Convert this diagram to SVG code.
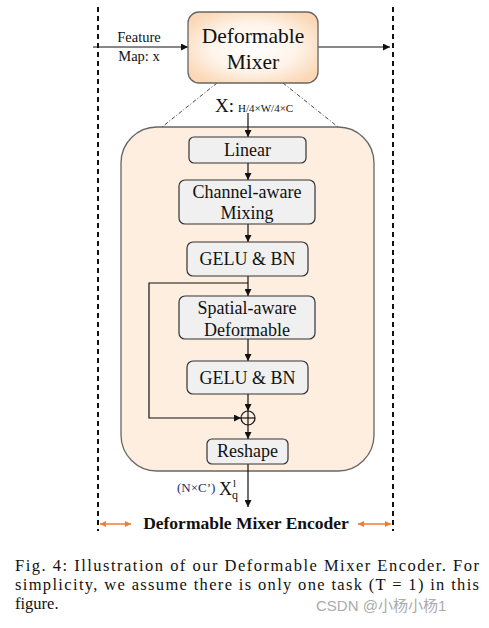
<svg xmlns="http://www.w3.org/2000/svg" width="489" height="628" viewBox="0 0 489 628" font-family="'Liberation Serif', 'Times New Roman', serif">
<defs>
<radialGradient id="mixg" cx="50%" cy="50%" r="60%">
<stop offset="0" stop-color="#ffffff"/>
<stop offset="0.55" stop-color="#fef4ea"/>
<stop offset="1" stop-color="#fbd7b5"/>
</radialGradient>
<marker id="ah" viewBox="0 0 10 10" refX="10" refY="5" markerWidth="7" markerHeight="7" markerUnits="userSpaceOnUse" orient="auto">
<path d="M0,0 L10,5 L0,10 z" fill="#111"/>
</marker>
<marker id="ao" viewBox="0 0 10 10" refX="10" refY="5" markerWidth="8" markerHeight="6" markerUnits="userSpaceOnUse" orient="auto-start-reverse">
<path d="M0,0 L10,5 L0,10 z" fill="#ed7d31"/>
</marker>
<style>
.box{fill:#f0f0f0;stroke:#333;stroke-width:1.2}
.t{font-family:'Liberation Serif','Times New Roman',serif;fill:#111;text-anchor:middle}
.b{font-size:18px}
.ln{stroke:#111;stroke-width:1.2;fill:none}
.dash{stroke:#111;stroke-width:2;stroke-dasharray:5,4;fill:none}
.cap{font-family:'Liberation Serif','Times New Roman',serif;font-size:16.5px;fill:#111}
</style>
</defs>
<rect width="489" height="628" fill="#fff"/>
<g id="frame">
<line class="dash" x1="98" y1="7" x2="98" y2="531"/>
<line class="dash" x1="393" y1="7" x2="393" y2="531"/>
</g>
<g id="container">
<rect x="121" y="127" width="253" height="344" rx="36" fill="#fdeee0" stroke="#666" stroke-width="1.3"/>
</g>
<g id="connectors">
<line class="ln" x1="93" y1="47" x2="188" y2="47" marker-end="url(#ah)"/>
<line class="ln" x1="318" y1="47" x2="390" y2="47" marker-end="url(#ah)"/>
<line x1="217" y1="83" x2="162" y2="127" stroke="#333" stroke-width="0.9" stroke-dasharray="4,2,1,2"/>
<line x1="283" y1="83" x2="338" y2="127" stroke="#333" stroke-width="0.9" stroke-dasharray="4,2,1,2"/>
<line class="ln" x1="248" y1="113" x2="248" y2="137" marker-end="url(#ah)"/>
<line class="ln" x1="248" y1="163" x2="248" y2="180" marker-end="url(#ah)"/>
<line class="ln" x1="248" y1="224" x2="248" y2="242" marker-end="url(#ah)"/>
<line class="ln" x1="248" y1="276" x2="248" y2="296" marker-end="url(#ah)"/>
<line class="ln" x1="248" y1="339" x2="248" y2="361" marker-end="url(#ah)"/>
<line class="ln" x1="248" y1="394" x2="248" y2="411" marker-end="url(#ah)"/>
<polyline class="ln" points="248,283 149,283 149,418 241,418" marker-end="url(#ah)"/>
<line class="ln" x1="248" y1="425" x2="248" y2="439" marker-end="url(#ah)"/>
<line class="ln" x1="248" y1="464" x2="248" y2="507" marker-end="url(#ah)"/>
<line x1="100" y1="524" x2="131" y2="524" stroke="#ed7d31" stroke-width="1.5" marker-start="url(#ao)" marker-end="url(#ao)"/>
<line x1="358" y1="524" x2="391" y2="524" stroke="#ed7d31" stroke-width="1.5" marker-start="url(#ao)" marker-end="url(#ao)"/>
</g>
<g id="input-label">
<text class="t" x="139" y="42" font-size="14.5">Feature</text>
<text class="t" x="139" y="61" font-size="14.5">Map: x</text>
</g>
<g id="mixer">
<rect x="188" y="12" width="130" height="71" rx="11" fill="url(#mixg)" stroke="#666" stroke-width="1.3"/>
<text class="t" x="253" y="43" font-size="21.5">Deformable</text>
<text class="t" x="253" y="69" font-size="21.5">Mixer</text>
</g>
<g id="x-label">
<text x="215" y="112" fill="#111"><tspan font-size="19">X:</tspan><tspan dx="4" font-size="11">H/4×W/4×C</tspan></text>
</g>
<g id="linear">
<rect class="box" x="189" y="137" width="117" height="26" rx="5"/>
<text class="t b" x="247.5" y="156">Linear</text>
</g>
<g id="channel">
<rect class="box" x="179" y="180" width="136" height="44" rx="6"/>
<text class="t b" x="247" y="198">Channel-aware</text>
<text class="t b" x="247" y="219">Mixing</text>
</g>
<g id="gelu1">
<rect class="box" x="187" y="242" width="121" height="34" rx="6"/>
<text class="t b" x="247.5" y="265">GELU &amp; BN</text>
</g>
<g id="spatial">
<rect class="box" x="179" y="296" width="136" height="43" rx="6"/>
<text class="t b" x="247" y="314">Spatial-aware</text>
<text class="t b" x="247" y="336">Deformable</text>
</g>
<g id="gelu2">
<rect class="box" x="187" y="361" width="121" height="33" rx="6"/>
<text class="t b" x="247.5" y="384">GELU &amp; BN</text>
</g>
<g id="add">
<circle cx="248" cy="418" r="7" fill="none" stroke="#111" stroke-width="1.2"/>
<line class="ln" x1="241" y1="418" x2="255" y2="418"/>
<line class="ln" x1="248" y1="411" x2="248" y2="425"/>
</g>
<g id="reshape">
<rect class="box" x="207" y="439" width="81" height="25" rx="5"/>
<text class="t b" x="247.5" y="457">Reshape</text>
</g>
<g id="out-label">
<text x="177" y="492" font-size="13" fill="#1a2a6c">(N×C’)</text>
<text x="219" y="495" font-size="18" fill="#111">X</text>
<text x="233" y="487" font-size="11" fill="#111">l</text>
<text x="232" y="499" font-size="12" fill="#111">q</text>
</g>
<g id="title">
<text class="t" x="246" y="529" font-size="17.5" font-weight="bold">Deformable Mixer Encoder</text>
</g>
<g id="caption">
<text class="cap" x="15" y="571" textLength="464" lengthAdjust="spacing">Fig. 4: Illustration of our Deformable Mixer Encoder. For</text>
<text class="cap" x="15" y="590" textLength="464" lengthAdjust="spacing">simplicity, we assume there is only one task (T = 1) in this</text>
<text class="cap" x="15" y="609">figure.</text>
</g>
<g id="watermark">
<text x="316" y="611" font-family="'Liberation Sans','Noto Sans CJK SC',sans-serif" font-size="15" fill="#aaa">CSDN @小杨小杨1</text>
</g>
</svg>
